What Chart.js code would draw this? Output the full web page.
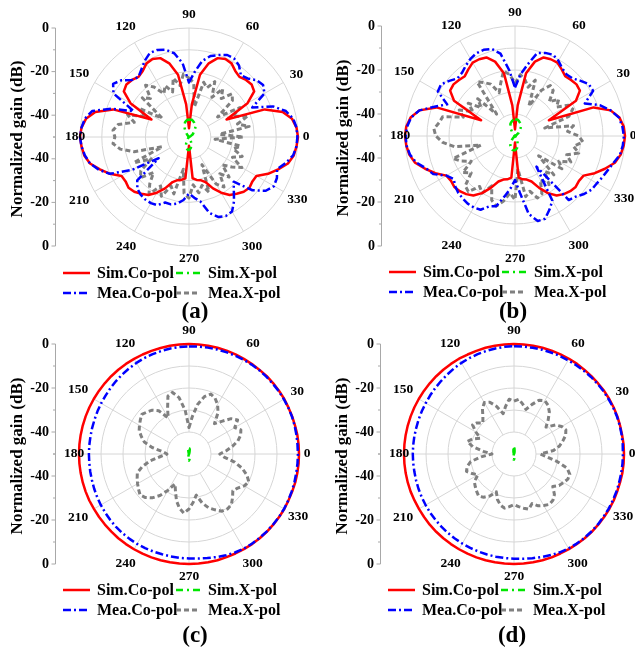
<!DOCTYPE html>
<html>
<head>
<meta charset="utf-8">
<script src="https://cdn.jsdelivr.net/npm/chart.js@4.4.0/dist/chart.umd.min.js"></script>
<style>
  html, body { margin: 0; padding: 0; background: #fff; overflow: hidden; }
  #wrap { position: relative; width: 635px; height: 649px; overflow: hidden; }
  #wrap canvas { position: absolute; }
</style>
</head>
<body>
<div id="wrap">
  <canvas id="chartA" width="317" height="331" style="left:0px; top:0px"></canvas>
  <canvas id="chartB" width="317" height="331" style="left:326px; top:-1px"></canvas>
  <canvas id="chartC" width="317" height="331" style="left:0px; top:317px"></canvas>
  <canvas id="chartD" width="317" height="331" style="left:325px; top:317px"></canvas>
</div>
<script>
// Normalized gain in dB, one value every 5 degrees starting at 0 deg (counter-clockwise)
const angleStep = 5;
const angleLabels = [0, 30, 60, 90, 120, 150, 180, 210, 240, 270, 300, 330];
const radialTicks = [0, -10, -20, -30, -40, -50];
const labeledTicks = [0, -20, -40];

// (a)
const simCoA = [0, -0.5, -2, -5.5, -13, -31, -19, -13.5, -12.5, -13, -14, -13, -11, -10.5, -11.5, -15, -21, -35,
  -46, -35, -21, -15, -11.5, -10.5, -11, -13, -14, -13, -12.5, -13.5, -19, -31, -13, -5.5, -2, -0.5,
  0, -0.5, -1.2, -3, -6.5, -10, -14.3, -14.5, -13.8, -14.5, -16, -17.5, -20.5, -24, -28, -29.5, -30, -31,
  -46, -31, -30, -29.5, -28, -24, -20.5, -17.5, -16, -14.5, -13.8, -14.5, -14.3, -10, -6.5, -3, -1.2, -0.5];
const simXA = [-50, -50, -50, -50, -50, -49.5, -49, -48, -47.5, -47, -46, -45, -44, -43.5, -43, -42.5, -42, -42,
  -42, -42, -42.5, -43, -44, -45, -46.5, -48, -49, -49.5, -50, -50, -50, -50, -50, -50, -50, -50,
  -50, -50, -50, -50, -50, -50, -50, -50, -50, -50, -49.5, -49, -48, -47, -46, -45, -44.5, -44,
  -44, -44.5, -45, -46, -47, -48, -49, -49.5, -50, -50, -50, -50, -50, -50, -50, -50, -50, -50];
const meaCoA = [-0.3, -0.5, -1.5, -4, -9, -18, -10, -8.5, -9.5, -12, -13, -10, -8.5, -8.5, -10, -11.5, -14.5, -20,
  -25, -16, -11, -8.5, -7.5, -7.5, -9.5, -12, -14, -13, -9.5, -7.5, -10, -22, -12, -4, -1.5, -0.5,
  0, -0.5, -1.5, -3, -6, -10, -20, -33, -19, -16.5, -15.5, -15, -15, -15.5, -18, -18, -19, -21,
  -24, -22, -20, -14, -11, -10, -10.5, -14, -18, -21, -12, -7, -5, -5.5, -7, -4, -1.5, -0.5];
const meaXA = [-25, -36, -22, -27, -21, -28, -23, -34, -24, -22, -27, -23, -29, -22, -26, -24, -36, -25,
  -23, -21, -26, -22, -28, -24, -27, -22, -19, -25, -22, -35, -24, -28, -20, -24, -17, -15,
  -16, -15, -18, -24, -37, -22, -30, -23, -21, -27, -22, -18, -24, -20, -26, -23, -35, -24,
  -22, -28, -24, -27, -23, -36, -25, -22, -28, -24, -30, -26, -22, -28, -24, -29, -26, -38];

// (b)
const simCoB = [0, -0.4, -1.8, -5, -12, -33, -18, -14, -13.5, -14, -14.5, -13, -11.5, -11.5, -12, -15, -21, -36,
  -47, -36, -21, -15, -12, -11.5, -11.5, -13, -14.5, -14, -13.5, -14, -18, -33, -12, -5, -1.8, -0.4,
  0, -0.4, -1.2, -3, -6.5, -10, -14, -14.5, -14, -14.5, -15.5, -17, -20, -24, -28, -29.5, -30, -31,
  -47, -31, -30, -29.5, -28, -24, -20, -17, -15.5, -14.5, -14, -14.5, -14, -10, -6.5, -3, -1.2, -0.4];
const simXB = [-50, -50, -50, -50, -50, -50, -49.5, -49, -48, -47.5, -46.5, -45.5, -44.5, -44, -43.5, -43, -42.5, -42.5,
  -42.5, -42.5, -43, -43.5, -44, -45, -46, -47.5, -48.5, -49.5, -50, -50, -50, -50, -50, -50, -50, -50,
  -50, -50, -50, -50, -50, -50, -50, -50, -49.5, -49, -48, -47, -46, -45, -44.5, -44, -43.5, -43.5,
  -43.5, -44, -44.5, -45.5, -46.5, -47.5, -48.5, -49.5, -50, -50, -50, -50, -50, -50, -50, -50, -50, -50];
const meaCoB = [-0.5, -1, -2, -5, -9, -15, -9, -9, -11, -13, -13.5, -12.5, -10.5, -9.2, -9.8, -11, -17, -22,
  -28, -20, -12, -9, -8.3, -8.5, -9.5, -11, -12.5, -13, -11, -9, -9.5, -16, -11, -5, -2, -0.8,
  -0.3, -0.5, -1.5, -3.5, -7, -9, -14, -16, -14.5, -13.5, -13, -12.5, -12.5, -13, -16, -17, -22, -26,
  -30, -24, -14, -10, -10, -13, -16, -33, -12, -11, -9, -7.5, -7, -6, -5, -3.5, -1.5, -0.8];
const meaXB = [-21, -26, -23, -36, -24, -21, -22, -27, -24, -28, -23, -22, -26, -35, -23, -27, -24, -22,
  -26, -22, -20, -25, -29, -24, -22, -20, -37, -26, -30, -24, -28, -22, -25, -16, -15, -13,
  -14, -17, -22, -34, -20, -23, -27, -21, -24, -18, -17, -22, -20, -25, -19, -17, -20, -24,
  -21, -35, -22, -24, -20, -21, -27, -23, -29, -25, -36, -24, -27, -22, -25, -20, -23, -19];

// (c)
const simCoC = [0, 0, 0, -0.1, -0.1, -0.1, 0, 0, 0, 0, -0.1, -0.1, -0.1, 0, 0, 0, 0, 0,
  0, 0, 0, -0.1, -0.1, -0.1, -0.1, 0, 0, 0, 0, 0, 0, 0, 0, 0, 0, 0,
  0, 0, 0, 0, 0, 0, -0.1, -0.1, -0.1, -0.1, 0, 0, 0, 0, 0, 0, 0, 0,
  0, 0, 0, 0, -0.1, -0.1, -0.1, 0, 0, 0, 0, 0, 0, -0.1, -0.1, 0, 0, 0];
const simXC = [-50, -50, -50, -50, -50, -50, -50, -50, -50, -50, -50, -50, -50, -50, -49.5, -49, -48, -47.5,
  -47.5, -47.5, -48, -49, -49.5, -50, -50, -50, -50, -50, -50, -50, -50, -50, -50, -50, -50, -50,
  -50, -50, -50, -50, -50, -50, -50, -50, -50, -50, -50, -50, -50, -50, -49.5, -49, -48, -47.5,
  -47, -47.5, -48, -49, -49.5, -50, -50, -50, -50, -50, -50, -50, -50, -50, -50, -50, -50, -50];
const meaCoC = [-0.5, -0.5, -0.4, -0.3, -0.2, -0.2, -0.2, -0.2, -0.3, -0.3, -0.3, -0.4, -0.5, -0.6, -0.7, -0.8, -0.9, -1,
  -1.1, -1.2, -1.3, -1.5, -1.7, -1.9, -2.2, -2.5, -2.8, -3.1, -3.4, -3.7, -3.9, -4.1, -4.3, -4.4, -4.5, -4.5,
  -4.5, -4.5, -4.4, -4.3, -4.1, -3.9, -3.7, -3.5, -3.3, -3.1, -3, -2.9, -2.8, -2.8, -2.8, -2.8, -2.7, -2.6,
  -2.5, -2.3, -2, -1.5, -1, -0.6, -0.3, -0.2, -0.2, -0.1, -0.1, -0.1, -0.1, -0.2, -0.3, -0.4, -0.5, -0.5];
const meaXC = [-36, -33, -30, -27, -25, -24, -26, -23, -25, -29, -32, -27, -24, -22, -21, -23, -27, -33,
  -38, -30, -24, -21, -22, -27, -31, -26, -24, -23, -22, -23, -24, -25, -27, -29, -33, -38,
  -40, -37, -32, -28, -25, -24, -23, -22, -21, -22, -24, -27, -31, -35, -32, -28, -25, -23,
  -25, -28, -31, -27, -24, -22, -20, -19.5, -20, -22, -24, -23, -21, -20, -22, -25, -29, -34];

// (d)
const simCoD = [0, 0, -0.1, -0.1, 0, 0, 0, 0, -0.1, -0.1, -0.1, 0, 0, 0, 0, 0, 0, 0,
  0, 0, 0, 0, -0.1, -0.1, 0, 0, 0, 0, 0, 0, 0, 0, 0, 0, 0, 0,
  0, 0, 0, 0, 0, -0.1, -0.1, -0.1, 0, 0, 0, 0, 0, 0, 0, 0, 0, 0,
  0, 0, 0, 0, 0, -0.1, -0.1, -0.1, 0, 0, 0, 0, 0, 0, -0.1, -0.1, 0, 0];
const simXD = [-50, -50, -50, -50, -50, -50, -50, -50, -50, -50, -50, -50, -50, -50, -49.5, -49, -48.5, -47.5,
  -47, -47.5, -48.5, -49, -49.5, -50, -50, -50, -50, -50, -50, -50, -50, -50, -50, -50, -50, -50,
  -50, -50, -50, -50, -50, -50, -50, -50, -50, -50, -50, -50, -50, -50, -49.5, -49, -48, -47.5,
  -47.5, -48, -48.5, -49, -49.5, -50, -50, -50, -50, -50, -50, -50, -50, -50, -50, -50, -50, -50];
const meaCoD = [-0.5, -0.4, -0.3, -0.2, -0.2, -0.2, -0.3, -0.3, -0.4, -0.5, -0.6, -0.7, -0.8, -0.8, -0.9, -0.9, -1, -1,
  -1, -1.1, -1.3, -1.5, -1.7, -1.9, -2.2, -2.5, -2.8, -3.1, -3.3, -3.5, -3.7, -3.8, -3.9, -4, -4, -4,
  -4, -4, -4, -3.9, -3.8, -3.7, -3.6, -3.5, -3.4, -3.3, -3.2, -3.1, -3, -2.9, -2.8, -2.7, -2.6, -2.5,
  -2.4, -2.2, -1.9, -1.5, -1.1, -0.7, -0.4, -0.3, -0.2, -0.2, -0.2, -0.3, -0.3, -0.4, -0.4, -0.5, -0.5, -0.5];
const meaXD = [-38, -32, -29, -27, -25, -24, -25, -27, -31, -28, -25, -23, -22, -23, -26, -29, -27, -25,
  -26, -25, -28, -31, -27, -24, -23, -25, -28, -30, -28, -27, -30, -33, -30, -28, -31, -36,
  -40, -35, -30, -28, -27, -29, -31, -28, -27, -26, -25, -26, -28, -31, -28, -26, -25, -26,
  -27, -26, -25, -24, -26, -24, -23, -22, -22.5, -24, -27, -25, -24, -23, -23, -25, -30, -35];

// radar order: index 0 at the top (90 deg), going clockwise
const radarAngles = [];
for (let i = 0; i < 360 / angleStep; i++) radarAngles.push((90 - i * angleStep + 360) % 360);
const toRadar = arr => radarAngles.map(a => arr[a / angleStep]);
const radarIndex = a => radarAngles.indexOf(a);

const gridColor = '#d6d6d6';
const serif = "'Liberation Serif', 'Times New Roman', serif";
const labelOffset = {0: 8, 30: 15, 60: 18, 90: 13, 120: 18, 150: 18, 180: 5, 210: 18, 240: 17, 270: 13, 300: 17, 330: 16};
const legendOrder = ['Sim.Co-pol', 'Sim.X-pol', 'Mea.Co-pol', 'Mea.X-pol'];

const polarDecor = {
  id: 'polarDecor',
  beforeDatasetsDraw(chart) {
    const r = chart.scales.r;
    const ctx = chart.ctx;
    ctx.save();
    ctx.strokeStyle = gridColor;
    ctx.lineWidth = 1;
    angleLabels.forEach(a => {
      const p0 = r.getPointPositionForValue(radarIndex(a), -40);
      const p1 = r.getPointPositionForValue(radarIndex(a), 0);
      ctx.beginPath();
      ctx.moveTo(p0.x, p0.y);
      ctx.lineTo(p1.x, p1.y);
      ctx.stroke();
    });
    ctx.restore();
  },
  afterDraw(chart, args, opts) {
    const r = chart.scales.r;
    const ctx = chart.ctx;
    ctx.save();
    ctx.fillStyle = '#000';

    // angle labels
    ctx.font = 'bold 13.5px ' + serif;
    ctx.textAlign = 'center';
    ctx.textBaseline = 'middle';
    angleLabels.forEach(a => {
      const p = r.getPointPosition(radarIndex(a), r.drawingArea + labelOffset[a]);
      ctx.fillText(String(a), p.x, p.y);
    });

    // left gain axis, mirrored around the centre
    const ax = 55.5;
    ctx.strokeStyle = '#a8a8a8';
    ctx.lineWidth = 1;
    ctx.beginPath();
    ctx.moveTo(ax, r.yCenter - r.drawingArea);
    ctx.lineTo(ax, r.yCenter + r.drawingArea);
    ctx.stroke();
    ctx.font = 'bold 14px ' + serif;
    ctx.textAlign = 'right';
    radialTicks.forEach(v => {
      const d = r.getDistanceFromCenterForValue(v);
      const major = labeledTicks.includes(v);
      [r.yCenter - d, r.yCenter + d].forEach(y => {
        ctx.beginPath();
        ctx.moveTo(ax - (major ? 4 : 2.5), y);
        ctx.lineTo(ax, y);
        ctx.stroke();
        if (major) ctx.fillText(String(v), ax - 6.5, y);
      });
    });

    // axis title
    ctx.save();
    ctx.translate(18, r.yCenter + 2);
    ctx.rotate(-Math.PI / 2);
    ctx.textAlign = 'center';
    ctx.font = 'bold 17px ' + serif;
    ctx.fillText('Normalized gain (dB)', 0, 0);
    ctx.restore();

    // legend, two columns
    ctx.font = 'bold 16px ' + serif;
    ctx.textAlign = 'left';
    legendOrder.forEach((name, i) => {
      const ds = chart.data.datasets.find(d => d.label === name);
      const col = i % 2, row = Math.floor(i / 2);
      const x0 = col === 0 ? 63 : 176;
      const len = col === 0 ? 27 : 24;
      const tx = col === 0 ? 97 : 208;
      const y = 273 + row * 20;
      ctx.save();
      ctx.strokeStyle = ds.borderColor;
      ctx.lineWidth = ds.borderWidth;
      ctx.setLineDash(ds.borderDash || []);
      ctx.beginPath();
      ctx.moveTo(x0, y);
      ctx.lineTo(x0 + len, y);
      ctx.stroke();
      ctx.restore();
      ctx.fillText(name, tx, y + 1);
    });

    // panel caption
    ctx.font = 'bold 23px ' + serif;
    ctx.textAlign = 'center';
    ctx.fillText(opts.caption, opts.captionX, opts.captionY);
    ctx.restore();
  }
};

function makePanel(id, caption, captionX, captionY, radius, simCo, simX, meaCo, meaX) {
  const edge = 189 - radius;
  new Chart(document.getElementById(id), {
    type: 'radar',
    data: {
      labels: radarAngles.map(String),
      datasets: [
        { label: 'Sim.X-pol', data: toRadar(simX), borderColor: '#00e600', borderWidth: 2.5, borderDash: [7, 4, 2, 4], order: 0 },
        { label: 'Mea.Co-pol', data: toRadar(meaCo), borderColor: '#0000ff', borderWidth: 2.5, borderDash: [8, 3, 2, 3], order: 1 },
        { label: 'Sim.Co-pol', data: toRadar(simCo), borderColor: '#ff0000', borderWidth: 2.5, order: 2 },
        { label: 'Mea.X-pol', data: toRadar(meaX), borderColor: '#808080', borderWidth: 3, borderDash: [5, 3], order: 3 }
      ]
    },
    options: {
      responsive: false,
      animation: false,
      events: [],
      devicePixelRatio: 1,
      layout: { padding: { left: edge, right: 317 - 189 - radius, top: 137 - radius, bottom: 331 - 137 - radius } },
      elements: {
        point: { radius: 0 },
        line: { fill: false, tension: 0, borderJoinStyle: 'round', backgroundColor: 'transparent' }
      },
      scales: {
        r: {
          min: -50,
          max: 0,
          ticks: { display: false, stepSize: 10 },
          grid: { circular: true, color: gridColor, lineWidth: 1 },
          angleLines: { display: false },
          pointLabels: { display: false }
        }
      },
      plugins: {
        legend: { display: false },
        tooltip: { enabled: false },
        polarDecor: { caption, captionX, captionY }
      }
    },
    plugins: [polarDecor]
  });
}

makePanel('chartA', '(a)', 195, 312, 109, simCoA, simXA, meaCoA, meaXA);
makePanel('chartB', '(b)', 187, 313, 110, simCoB, simXB, meaCoB, meaXB);
makePanel('chartC', '(c)', 195, 319, 110, simCoC, simXC, meaCoC, meaXC);
makePanel('chartD', '(d)', 187, 319, 110, simCoD, simXD, meaCoD, meaXD);
</script>
</body>
</html>
